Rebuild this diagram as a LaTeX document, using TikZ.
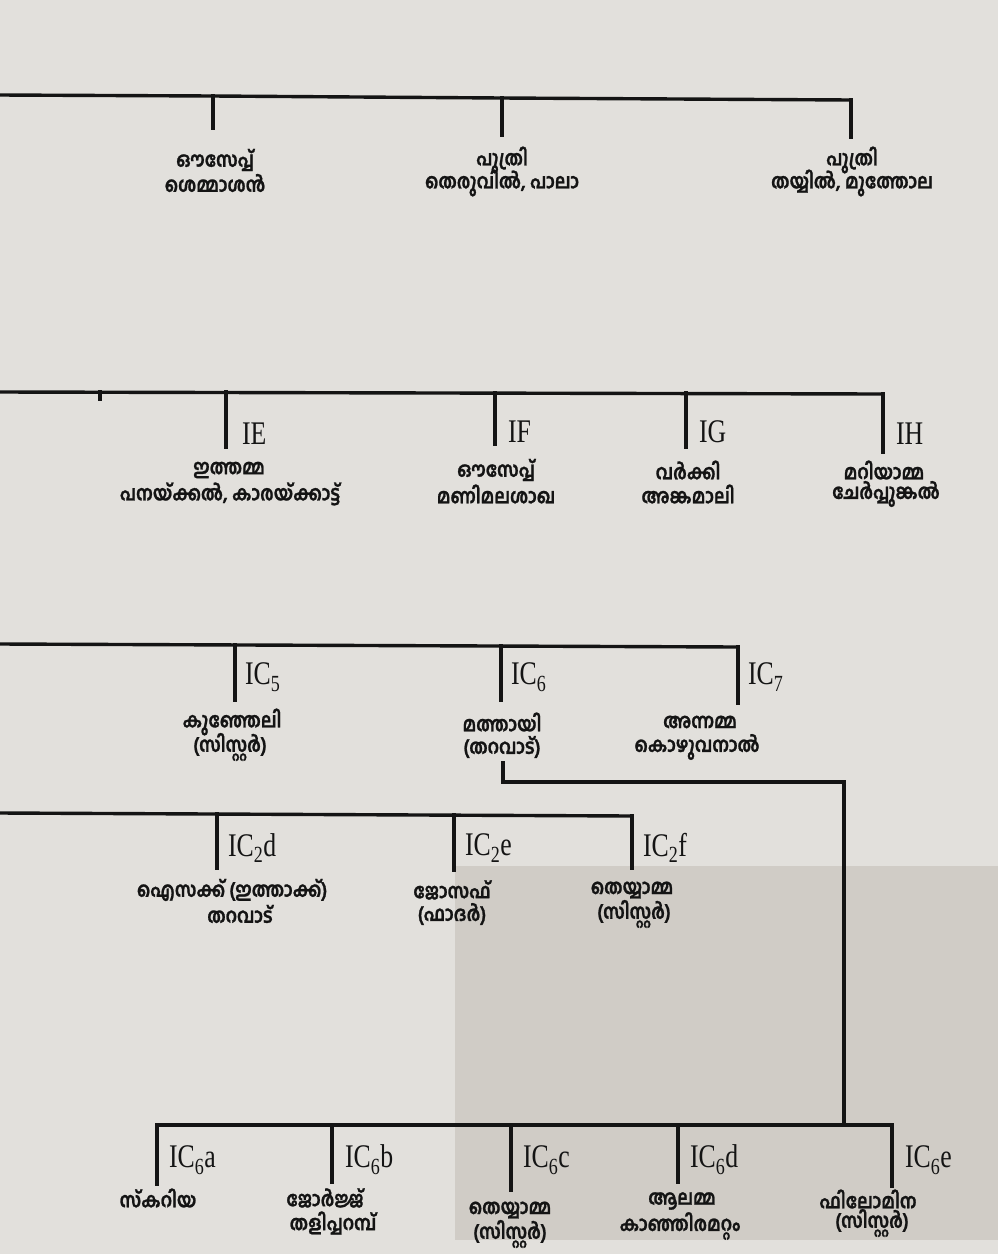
\documentclass[tikz,border=0pt]{standalone}
\usepackage{fontspec}
\setmainfont{Liberation Serif}
\newfontfamily\ml[Script=Malayalam, BoldFeatures={FakeBold=1.2}]{Hind Kochi}
\definecolor{paper}{HTML}{E2E0DC}
\definecolor{panel}{HTML}{D0CCC6}
\definecolor{ink}{HTML}{141414}
\tikzset{
  br/.style={draw=ink, line width=3.4pt, line cap=rect},
  ml/.style={font=\ml\bfseries\fontsize{17.5}{20}\selectfont, text=ink, inner sep=0pt, anchor=center, align=center, yscale=1.18},
  ic/.style={font=\fontsize{33}{34}\selectfont, text=ink, inner sep=0pt, anchor=west, xscale=0.78},
}
\begin{document}
\begin{tikzpicture}[x=1pt,y=-1pt]
\fill[paper] (0,0) rectangle (998,1254);
\useasboundingbox (0,0) rectangle (998,1254);
\fill[panel] (455,866) rectangle (998,1240);
% ---------- tree 1
\coordinate (a0) at (0,95);
\coordinate (a1) at (213,96);
\coordinate (a2) at (502,98);
\coordinate (a3) at (851,100);
\coordinate (a1e) at (213,128);
\coordinate (a2e) at (502,135);
\coordinate (a3e) at (851,137);
\draw[br] (a0) -- (a1) -- (a2) -- (a3);
\draw[br] (a1) -- (a1e);
\draw[br] (a2) -- (a2e);
\draw[br] (a3) -- (a3e);
\node[ml] (t1a) at (215,160) {ഔസേപ്പ്};
\node[ml] (t1b) at (215,183) {ശെമ്മാശൻ};
\node[ml] (t2a) at (502,160) {പുത്രി};
\node[ml] (t2b) at (502,183) {തെരുവിൽ, പാലാ};
\node[ml] (t3a) at (852,160) {പുത്രി};
\node[ml] (t3b) at (852,183) {തയ്യിൽ, മുത്തോല};
% ---------- tree 2
\coordinate (b0) at (0,392);
\coordinate (bt) at (100,392);
\coordinate (bte) at (100,399);
\coordinate (b1) at (226,392);
\coordinate (b2) at (495,393);
\coordinate (b3) at (686,393);
\coordinate (b4) at (883,394);
\coordinate (b1e) at (226,447);
\coordinate (b2e) at (495,444);
\coordinate (b3e) at (686,447);
\coordinate (b4e) at (883,452);
\draw[br] (b0) -- (b4);
\draw[br] (bt) -- (bte);
\draw[br] (b1) -- (b1e);
\draw[br] (b2) -- (b2e);
\draw[br] (b3) -- (b3e);
\draw[br] (b4) -- (b4e);
\node[ic] (lE) at (242,434) {IE};
\node[ic] (lF) at (508,432) {IF};
\node[ic] (lG) at (699,432) {IG};
\node[ic] (lH) at (896,434) {IH};
\node[ml] (u1a) at (229,470) {ഇത്തമ്മ};
\node[ml] (u1b) at (230,494) {പനയ്ക്കൽ, കാരയ്ക്കാട്ട്};
\node[ml] (u2a) at (496,470) {ഔസേപ്പ്};
\node[ml] (u2b) at (496,494) {മണിമലശാഖ};
\node[ml] (u3a) at (688,470) {വർക്കി};
\node[ml] (u3b) at (688,494) {അങ്കമാലി};
\node[ml] (u4a) at (884,470) {മറിയാമ്മ};
\node[ml] (u4b) at (886,494) {ചേർപ്പുങ്കൽ};
% ---------- tree 3
\coordinate (c0) at (0,644);
\coordinate (c1) at (235,645);
\coordinate (c2) at (501,646);
\coordinate (c3) at (738,647);
\coordinate (c1e) at (235,700);
\coordinate (c2e) at (501,700);
\coordinate (c3e) at (738,703);
\draw[br] (c0) -- (c3);
\draw[br] (c1) -- (c1e);
\draw[br] (c2) -- (c2e);
\draw[br] (c3) -- (c3e);
\node[ic] (l5) at (245,677) {IC\textsubscript{5}};
\node[ic] (l6) at (511,677) {IC\textsubscript{6}};
\node[ic] (l7) at (748,677) {IC\textsubscript{7}};
\node[ml] (v1a) at (232,722) {കുഞ്ഞേലി};
\node[ml] (v1b) at (230,747) {(സിസ്റ്റർ)};
\node[ml] (v2a) at (502,722) {മത്തായി};
\node[ml] (v2b) at (502,747) {(തറവാട്)};
\node[ml] (v3a) at (700,722) {അന്നമ്മ};
\node[ml] (v3b) at (697,747) {കൊഴുവനാൽ};
% connector from IC6 down to its children
\coordinate (m0) at (503,763);
\coordinate (m1) at (503,782);
\coordinate (m2) at (844,782);
\coordinate (m3) at (844,1125);
\draw[br] (m0) -- (m1) -- (m2) -- (m3);
% ---------- tree 4
\coordinate (d0) at (0,813);
\coordinate (d1) at (217,814);
\coordinate (d2) at (454,815);
\coordinate (d3) at (632,816);
\coordinate (d1e) at (217,868);
\coordinate (d2e) at (454,870);
\coordinate (d3e) at (632,868);
\draw[br] (d0) -- (d3);
\draw[br] (d1) -- (d1e);
\draw[br] (d2) -- (d2e);
\draw[br] (d3) -- (d3e);
\node[ic] (l2d) at (228,848) {IC\textsubscript{2}d};
\node[ic] (l2e) at (465,848) {IC\textsubscript{2}e};
\node[ic] (l2f) at (643,848) {IC\textsubscript{2}f};
\node[ml] (w1a) at (232,890) {ഐസക്ക് (ഇത്താക്ക്)};
\node[ml] (w1b) at (240,914) {തറവാട്};
\node[ml] (w2a) at (452,890) {ജോസഫ്};
\node[ml] (w2b) at (452,914) {(ഫാദർ)};
\node[ml] (w3a) at (632,890) {തെയ്യാമ്മ};
\node[ml] (w3b) at (634,914) {(സിസ്റ്റർ)};
% ---------- tree 5
\coordinate (e1) at (157,1125);
\coordinate (e2) at (332,1125);
\coordinate (e3) at (511,1125);
\coordinate (e4) at (678,1125);
\coordinate (e5) at (892,1125);
\coordinate (e1e) at (157,1184);
\coordinate (e2e) at (332,1182);
\coordinate (e3e) at (511,1190);
\coordinate (e4e) at (678,1182);
\coordinate (e5e) at (892,1186);
\draw[br] (e1) -- (e5);
\draw[br] (e1) -- (e1e);
\draw[br] (e2) -- (e2e);
\draw[br] (e3) -- (e3e);
\draw[br] (e4) -- (e4e);
\draw[br] (e5) -- (e5e);
\node[ic] (l6a) at (169,1160) {IC\textsubscript{6}a};
\node[ic] (l6b) at (345,1160) {IC\textsubscript{6}b};
\node[ic] (l6c) at (523,1160) {IC\textsubscript{6}c};
\node[ic] (l6d) at (690,1160) {IC\textsubscript{6}d};
\node[ic] (l6e) at (905,1160) {IC\textsubscript{6}e};
\node[ml] (x1a) at (158,1198) {സ്കറിയ};
\node[ml] (x2a) at (325,1198) {ജോർജ്ജ്};
\node[ml] (x2b) at (333,1223) {തളിപ്പറമ്പ്};
\node[ml] (x3a) at (510,1210) {തെയ്യാമ്മ};
\node[ml] (x3b) at (510,1234) {(സിസ്റ്റർ)};
\node[ml] (x4a) at (682,1201) {ആലമ്മ};
\node[ml] (x4b) at (680,1226) {കാഞ്ഞിരമറ്റം};
\node[ml] (x5a) at (868,1199) {ഫിലോമിന};
\node[ml] (x5b) at (872,1223) {(സിസ്റ്റർ)};
\end{tikzpicture}
\end{document}
